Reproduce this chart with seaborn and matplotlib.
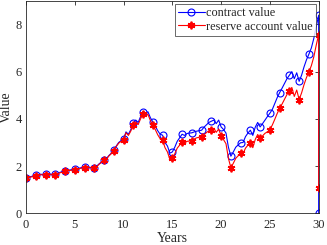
import numpy as np
import pandas as pd
import matplotlib
matplotlib.use("Agg")
import matplotlib.pyplot as plt
import seaborn as sns

# quarterly time grid 0..30, plus the payout point at year 30
years = [i * 0.25 for i in range(121)] + [30.0]

contract_value = [
    1.50, 1.53, 1.56, 1.58, 1.61, 1.63, 1.66, 1.64, 1.65, 1.68, 1.66, 1.64,
    1.65, 1.70, 1.74, 1.77, 1.80, 1.82, 1.84, 1.85, 1.86, 1.89, 1.92, 1.94,
    1.96, 1.97, 1.95, 1.94, 1.93, 2.00, 2.10, 2.18, 2.28, 2.32, 2.45, 2.55,
    2.68, 2.85, 3.00, 3.08, 3.15, 3.45, 3.35, 3.55, 3.83, 3.95, 3.85, 4.10,
    4.31, 4.25, 4.30, 4.05, 3.87, 3.70, 3.50, 3.35, 3.31, 3.00, 2.85, 2.55,
    2.60, 2.80, 3.05, 3.20, 3.35, 3.30, 3.38, 3.40, 3.41, 3.45, 3.48, 3.50,
    3.52, 3.65, 3.75, 3.85, 3.90, 3.95, 3.80, 3.95, 3.66, 3.55, 3.40, 2.80,
    2.42, 2.60, 2.80, 2.90, 2.99, 3.00, 3.25, 3.40, 3.52, 3.30, 3.65, 3.85,
    3.66, 3.80, 3.95, 4.10, 4.24, 4.40, 4.65, 4.90, 5.11, 5.30, 5.50, 5.70,
    5.85, 6.00, 5.70, 5.95, 5.59, 5.85, 6.20, 6.50, 6.74, 7.00, 7.40, 7.90,
    8.39, 0.00,
]

reserve_value = [
    1.48, 1.51, 1.54, 1.56, 1.59, 1.61, 1.64, 1.62, 1.63, 1.66, 1.64, 1.62,
    1.63, 1.68, 1.72, 1.75, 1.78, 1.80, 1.82, 1.83, 1.84, 1.87, 1.90, 1.92,
    1.94, 1.95, 1.93, 1.92, 1.91, 1.98, 2.08, 2.16, 2.26, 2.30, 2.43, 2.53,
    2.66, 2.83, 2.97, 3.05, 3.12, 3.41, 3.30, 3.49, 3.76, 3.87, 3.76, 4.01,
    4.21, 4.14, 4.19, 3.93, 3.75, 3.55, 3.33, 3.16, 3.10, 2.78, 2.60, 2.28,
    2.33, 2.52, 2.76, 2.89, 3.03, 2.97, 3.05, 3.06, 3.07, 3.15, 3.20, 3.22,
    3.24, 3.33, 3.42, 3.50, 3.55, 3.60, 3.43, 3.57, 3.27, 3.12, 2.95, 2.33,
    1.93, 2.12, 2.33, 2.44, 2.54, 2.53, 2.76, 2.89, 2.99, 2.78, 3.13, 3.34,
    3.17, 3.28, 3.39, 3.45, 3.55, 3.74, 3.98, 4.23, 4.44, 4.63, 4.83, 5.03,
    5.18, 5.33, 4.95, 5.22, 4.82, 5.10, 5.45, 5.75, 5.99, 6.25, 6.62, 7.12,
    7.57, 1.06,
]

x_ticks = [0, 5, 10, 15, 20, 25, 30]
y_ticks = [0, 2, 4, 6, 8]

df = pd.DataFrame({"Years": years, "contract": contract_value,
                   "reserve": reserve_value})

sns.set_theme(style="white")
plt.rcParams["font.family"] = ["Liberation Serif", "DejaVu Serif"]
plt.rcParams["mathtext.fontset"] = "stix"

fig = plt.figure(figsize=(3.27, 2.45), dpi=100)
ax = fig.add_axes([0.0795, 0.129, 0.895, 0.868])

mark_idx = list(range(0, 121, 4)) + [121]

sns.lineplot(data=df, x="Years", y="contract", ax=ax, estimator=None,
             sort=False, color="#0000ff", linewidth=0.8, marker="o",
             markersize=5, markerfacecolor="none", markeredgecolor="#0000ff",
             markeredgewidth=0.8, markevery=mark_idx, label="contract value")
sns.lineplot(data=df, x="Years", y="reserve", ax=ax, estimator=None,
             sort=False, color="#ff0000", linewidth=0.8, marker=(6, 2, 0),
             markersize=5.5, markerfacecolor="#ff0000",
             markeredgecolor="#ff0000", markeredgewidth=1.3,
             markevery=mark_idx, label="reserve account value")

ax.set_xlim(0, 30)
ax.set_ylim(0, 9)
ax.set_xticks(x_ticks)
ax.set_yticks(y_ticks)
ax.tick_params(direction="in", length=3, width=0.6, colors="#262626",
               labelsize=9, top=True, right=True, pad=3)
ax.tick_params(axis="x", pad=4)
for sp in ax.spines.values():
    sp.set_color("#262626")
    sp.set_linewidth(0.6)
ax.set_xlabel("Years", fontsize=10, labelpad=1, color="#262626")
ax.set_ylabel("Value", fontsize=10, labelpad=2, color="#262626")

leg = ax.legend(loc="upper right", fontsize=8.8, frameon=True, fancybox=False,
                borderpad=0.25, labelspacing=0.15, handlelength=2.2,
                handletextpad=0.1, borderaxespad=0.25)
leg.get_frame().set_edgecolor("#262626")
leg.get_frame().set_linewidth(0.6)

fig.savefig("out.png", dpi=100)
